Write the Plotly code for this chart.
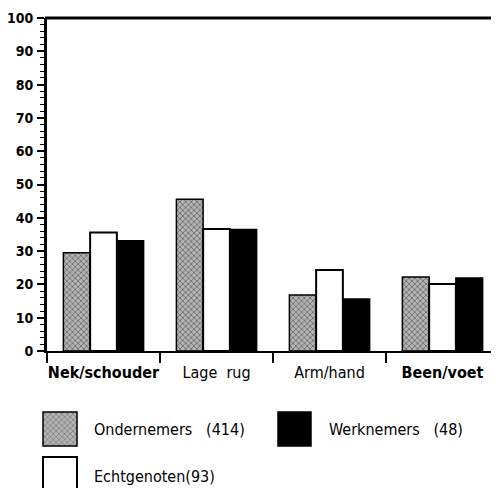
import plotly.graph_objects as go

categories = ["Nek/schouder", "Lage rug", "Arm/hand", "Been/voet"]
tick_labels = ["<b>Nek/schouder</b>", "Lage\u00a0\u00a0rug", "Arm/hand", "<b>Been/voet</b>"]
ondernemers = [29.5, 45.6, 16.8, 22.2]
echtgenoten = [35.6, 36.6, 24.3, 20.1]
werknemers = [33.1, 36.5, 15.6, 21.9]
series_names = ["Ondernemers\u00a0\u00a0\u00a0(414)", "Echtgenoten(93)", "Werknemers\u00a0\u00a0\u00a0(48)"]

# the page body adds an 8px offset; size the figure to fill the remaining window
OFF = 8
W, H = 499 - OFF, 488 - OFF
NARROW = "DejaVu Sans Condensed, Liberation Sans Narrow, Arial Narrow, sans-serif"
GRAY = "#b4b4b4"
CLEAR = "rgba(0,0,0,0)"


def px(x):
    return (x - OFF) / W


def py(y):
    return 1 - (y - OFF) / H


fig = go.Figure()
fig.add_trace(go.Bar(x=categories, y=ondernemers, name=series_names[0],
                     marker=dict(color=GRAY,
                                 pattern=dict(shape="x", fgcolor="#111111", bgcolor=GRAY, size=4, solidity=0.35),
                                 line=dict(color="black", width=1.5))))
fig.add_trace(go.Bar(x=categories, y=echtgenoten, name=series_names[1],
                     marker=dict(color="white", line=dict(color="black", width=2))))
fig.add_trace(go.Bar(x=categories, y=werknemers, name=series_names[2],
                     marker=dict(color="black", line=dict(color="black", width=1.5))))

# legend swatches on a hidden axis pair in the bottom band (window-pixel units)
LEG_TOP = 400
fig.add_trace(go.Bar(
    x=[60, 294.5, 60], y=[34, 34, 34], base=[412, 412, 457], width=[34, 33, 34],
    marker=dict(color=[GRAY, "black", "white"],
                pattern=dict(shape=["x", "", ""], fgcolor="#111111", size=4, solidity=0.35),
                line=dict(color="black", width=[1.5, 1.5, 2])),
    xaxis="x2", yaxis="y2", showlegend=False, hoverinfo="skip", cliponaxis=True))

leg_text = [series_names[0], series_names[2], series_names[1]]
leg_tx = [92, 327, 92]
leg_ty = [429, 429, 476]
annotations = []
for t, x, y in zip(leg_text, leg_tx, leg_ty):
    annotations.append(dict(text=t, x=px(x), y=py(y), xref="paper", yref="paper",
                            xanchor="left", yanchor="middle", showarrow=False,
                            font=dict(family=NARROW, size=16, color="black")))

fig.update_layout(
    width=W, height=H, autosize=False,
    margin=dict(l=0, r=0, t=0, b=0, pad=0, autoexpand=False),
    paper_bgcolor="white", plot_bgcolor=CLEAR,
    showlegend=False,
    barmode="group", bargap=0.29, bargroupgap=0,
    xaxis=dict(domain=[px(47), 1], range=[-0.5, 3.5], tickangle=0, automargin=False,
               tickmode="array", tickvals=categories, ticktext=tick_labels,
               showline=True, linecolor="black", linewidth=2,
               ticks="outside", tickson="boundaries", ticklen=10, tickwidth=2, tickcolor="black",
               ticklabelstandoff=6,
               showgrid=False, zeroline=False,
               tickfont=dict(family=NARROW, size=16, color="black")),
    yaxis=dict(domain=[py(351), py(18)], range=[0, 100], automargin=False,
               tickmode="linear", tick0=0, dtick=10,
               showline=True, linecolor="black", linewidth=3,
               ticks="outside", ticklen=7, tickwidth=1.5, tickcolor="black",
               ticklabelstandoff=1,
               minor=dict(dtick=2, ticks="outside", ticklen=4, tickwidth=1, tickcolor="black"),
               showgrid=False, zeroline=False,
               tickfont=dict(family=NARROW, size=14, color="black", weight="bold")),
    xaxis2=dict(domain=[0, 1], range=[OFF, OFF + W], visible=False, anchor="y2", automargin=False),
    yaxis2=dict(domain=[0, py(LEG_TOP)], range=[OFF + H, LEG_TOP], visible=False, anchor="x2",
                automargin=False),
    annotations=annotations,
    shapes=[dict(type="line", xref="paper", yref="paper", x0=px(45), x1=1,
                 y0=py(18), y1=py(18), line=dict(color="black", width=3))],
)

fig.write_html("out.html")
